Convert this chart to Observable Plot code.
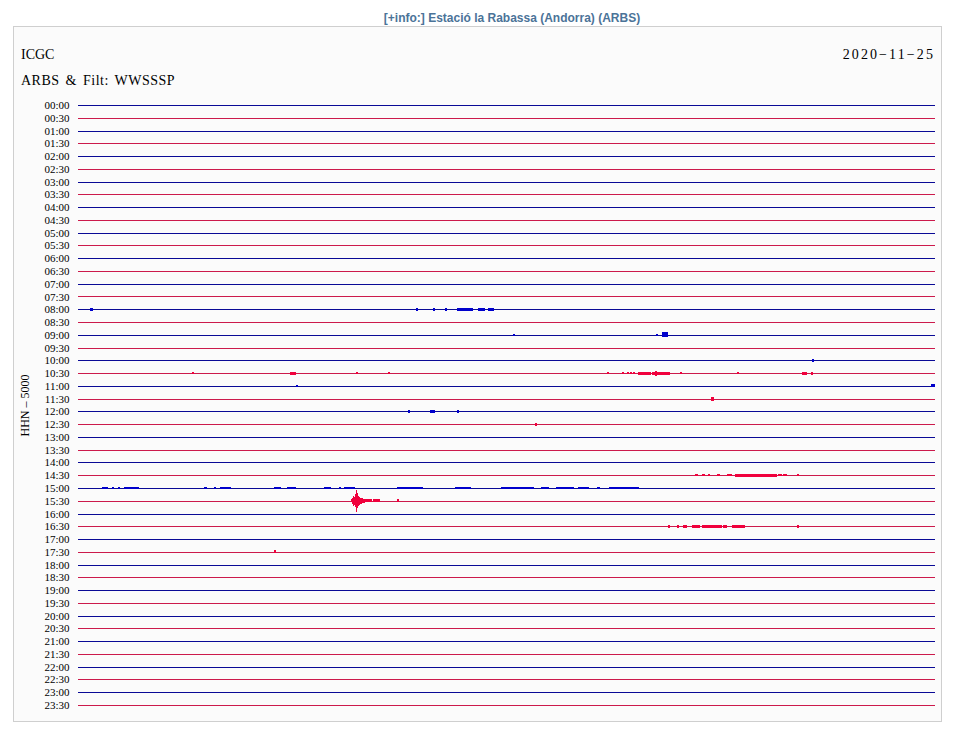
<!DOCTYPE html>
<html><head><meta charset="utf-8">
<script src="https://cdn.jsdelivr.net/npm/d3@7"></script>
<script src="https://cdn.jsdelivr.net/npm/@observablehq/plot@0.6"></script>
<style>
html,body{margin:0;padding:0;background:#fff;}
body{width:968px;height:747px;position:relative;overflow:hidden;font-family:"Liberation Serif",serif;}
#title{position:absolute;left:0;width:1024px;top:11px;text-align:center;font:bold 12px "Liberation Sans",Arial,sans-serif;color:#4b7398;}
#panel{position:absolute;left:13px;top:26px;width:927px;height:694px;border:1px solid #cfcfcf;background:#fbfbfb;}
.hd{position:absolute;font-size:14px;line-height:14px;color:#000;white-space:nowrap;}
#chart{position:absolute;left:0;top:0;}
</style></head><body>
<div id="title">[+info:] Estació la Rabassa (Andorra) (ARBS)</div>
<div id="panel">
  <div class="hd" style="left:7px;top:21px;">ICGC</div>
  <div class="hd" style="left:7px;top:47px;word-spacing:2px;letter-spacing:0.5px;">ARBS &amp; Filt: WWSSSP</div>
  <div class="hd" style="right:6px;top:21px;letter-spacing:2.1px;">2020−11−25</div>
  <div id="chart"></div>
</div>
<script>
// Row tick labels (one trace per half hour)
const timeLabels = ["00:00","00:30","01:00","01:30","02:00","02:30","03:00","03:30","04:00","04:30","05:00","05:30","06:00","06:30","07:00","07:30","08:00","08:30","09:00","09:30","10:00","10:30","11:00","11:30","12:00","12:30","13:00","13:30","14:00","14:30","15:00","15:30","16:00","16:30","17:00","17:30","18:00","18:30","19:00","19:30","20:00","20:30","21:00","21:30","22:00","22:30","23:00","23:30"];
const minutes = [0, 30];
const yLabel = "HHN – 5000";

// Signal bursts: [row, start minute, end minute, half-amplitude (row units)]
const bursts = [
  // 08:00
  [16,0.42,0.53,0.1],[16,11.83,11.90,0.1],[16,12.43,12.50,0.1],[16,12.85,12.92,0.12],[16,13.27,13.83,0.12],[16,14.00,14.25,0.12],[16,14.35,14.56,0.12],
  // 09:00
  [18,15.23,15.30,0.1],[18,20.23,20.30,0.1],[18,20.44,20.65,0.2],
  // 10:00
  [20,25.69,25.76,0.1],
  // 10:30
  [21,3.99,4.06,0.1],[21,7.42,7.63,0.12],[21,9.73,9.80,0.1],[21,10.85,10.92,0.1],[21,18.52,18.59,0.1],[21,19.04,19.11,0.1],[21,19.22,19.29,0.1],[21,19.33,19.38,0.1],[21,19.43,19.50,0.1],[21,19.60,20.06,0.12],[21,20.09,20.72,0.12],[21,20.20,20.27,0.2],[21,21.07,21.14,0.1],[21,23.07,23.14,0.1],[21,25.34,25.52,0.12],[21,25.66,25.73,0.12],
  // 11:00
  [22,7.63,7.70,0.1],[22,29.86,30.0,0.12],
  // 11:30
  [23,22.16,22.26,0.16],
  // 12:00
  [24,11.55,11.62,0.1],[24,12.32,12.50,0.12],[24,13.27,13.34,0.1],
  // 12:30
  [25,16.00,16.07,0.12],
  // 14:30
  [29,21.60,21.70,0.1],[29,21.84,21.95,0.1],[29,22.05,22.12,0.1],[29,22.37,22.47,0.1],[29,22.72,22.89,0.1],[29,22.99,24.47,0.12],[29,24.50,24.64,0.1],[29,24.68,24.82,0.1],[29,25.17,25.24,0.1],
  // 15:00
  [30,0.84,1.05,0.1],[30,1.19,1.26,0.1],[30,1.40,1.47,0.1],[30,1.61,2.14,0.1],[30,4.41,4.52,0.1],[30,4.76,4.83,0.1],[30,4.97,5.36,0.1],[30,6.86,7.11,0.1],[30,7.32,7.63,0.1],[30,8.61,8.86,0.1],[30,9.14,9.21,0.1],[30,9.31,9.70,0.1],[30,11.17,12.08,0.1],[30,13.20,13.76,0.1],[30,14.81,15.96,0.1],[30,16.21,16.49,0.1],[30,16.73,17.36,0.1],[30,17.50,17.89,0.1],[30,18.17,18.27,0.1],[30,18.59,19.64,0.1],
  // 15:30 (main event)
  [31,9.56,9.59,0.12],[31,9.59,9.63,0.25],[31,9.63,9.66,0.4],[31,9.66,9.70,0.33],[31,9.70,9.73,0.5],[31,9.73,9.77,0.88],[31,9.77,9.80,0.6],[31,9.80,9.84,0.4],[31,9.84,9.87,0.3],[31,9.87,9.91,0.25],[31,9.91,9.94,0.22],[31,9.94,9.98,0.18],[31,9.98,10.01,0.16],[31,10.01,10.05,0.14],[31,10.05,10.29,0.1],[31,10.33,10.57,0.1],[31,11.15,11.22,0.12],
  // 16:30
  [33,20.65,20.72,0.1],[33,20.97,21.04,0.1],[33,21.18,21.32,0.1],[33,21.49,21.77,0.1],[33,21.84,22.54,0.13],[33,22.58,22.72,0.1],[33,22.89,23.35,0.12],[33,25.17,25.24,0.1],
  // 17:30
  [35,6.86,6.93,0.12]
];

const lineBlue = "#0a0a96", lineRed = "#cc1a4c";
const evtBlue = "#0000cc", evtRed = "#f0003c";
const rows = timeLabels.map((t, i) => i);

const chart = Plot.plot({
  width: 927, height: 693,
  marginLeft: 64, marginRight: 6, marginTop: 78, marginBottom: 15,
  style: {fontFamily: "'Liberation Serif', serif", fontSize: "11px", color: "#000", background: "transparent"},
  x: {domain: minutes, axis: null},
  y: {domain: [0, 47], reverse: true, axis: null},
  color: {type: "identity"},
  marks: [
    Plot.ruleY(rows, {y: d => d, x1: minutes[0], x2: minutes[1], stroke: d => d % 2 ? lineRed : lineBlue, strokeWidth: 1, shapeRendering: "crispEdges"}),
    Plot.rect(bursts, {x1: d => d[1], x2: d => d[2], y1: d => d[0] - d[3], y2: d => d[0] + d[3], fill: d => d[0] % 2 ? evtRed : evtBlue, shapeRendering: "crispEdges"}),
    Plot.axisY({ticks: rows, tickFormat: i => timeLabels[i], tickSize: 0, tickPadding: 9, label: null, fontSize: 11}),
    Plot.text([yLabel], {frameAnchor: "left", dx: -53, rotate: -90, textAnchor: "middle", text: d => d, fontSize: 12, fill: "#000"})
  ]
});
document.getElementById("chart").appendChild(chart);
</script>
</body></html>
